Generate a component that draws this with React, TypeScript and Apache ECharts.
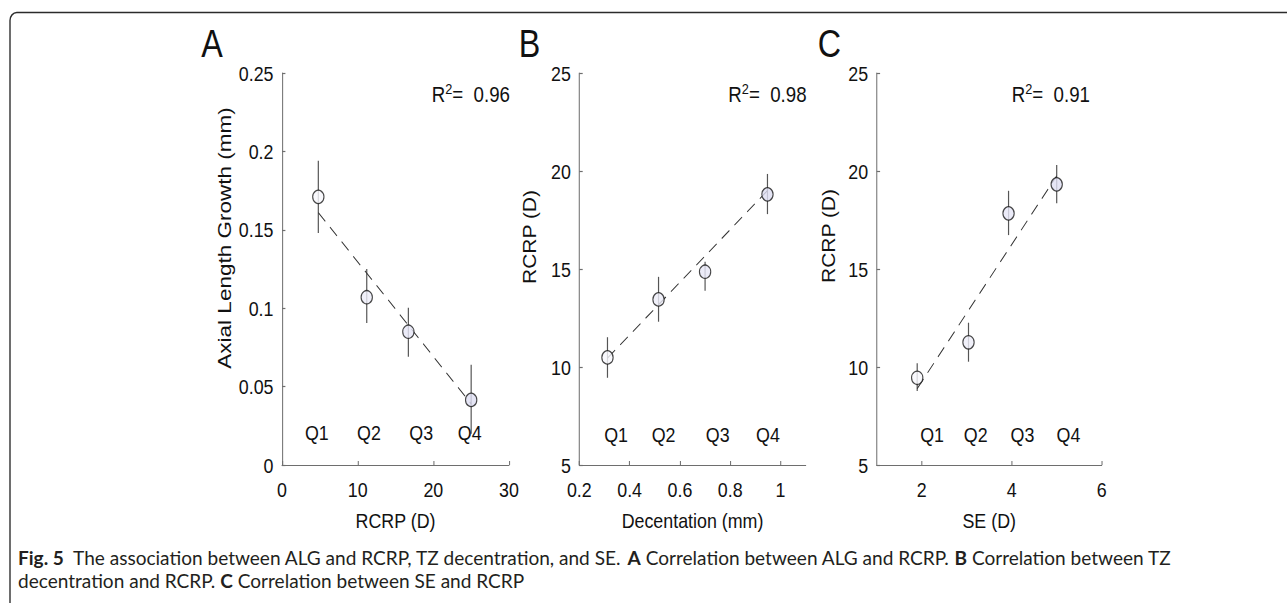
import React, { useEffect, useRef } from 'react';
import * as echarts from 'echarts';

// The reference figure is horizontally compressed; we draw in an unscaled space and squeeze it.
const K = 0.85;
const W = Math.round(1287 / K);
const H = 603;
const sx = (x: number) => x / K;

const quartiles = ['Q1', 'Q2', 'Q3', 'Q4'];

// ---- Panel A: ALG vs RCRP ----
const rcrpA = [4.8, 11.2, 16.7, 25.0];
const algA = [0.171, 0.107, 0.085, 0.0415];
const algLowA = [0.148, 0.0905, 0.069, 0.02];
const algHighA = [0.194, 0.125, 0.1003, 0.064];
const fitXA = [4.8, 25.0];
const fitYA = [0.161, 0.039];
const qLabelXA = [4.6, 11.5, 18.4, 24.8];
const qLabelYA = 0.0205;
const r2A = '0.96';

// ---- Panel B: RCRP vs decentration ----
const decentB = [0.312, 0.515, 0.7, 0.948];
const rcrpB = [10.49, 13.45, 14.86, 18.81];
const rcrpLowB = [9.45, 12.31, 13.89, 17.8];
const rcrpHighB = [11.52, 14.6, 15.37, 19.85];
const fitXB = [0.312, 0.948];
const fitYB = [10.45, 19.0];
const qLabelXB = [0.346, 0.535, 0.75, 0.95];
const qLabelYB = 6.58;
const r2B = '0.98';
const xTicksB = [0.2, 0.4, 0.6, 0.8, 1];

// ---- Panel C: RCRP vs SE ----
const seC = [1.9, 3.04, 3.93, 5.0];
const rcrpC = [9.45, 11.26, 17.84, 19.32];
const rcrpLowC = [8.78, 10.27, 16.73, 18.35];
const rcrpHighC = [10.19, 12.26, 18.99, 20.31];
const fitXC = [1.9, 5.0];
const fitYC = [8.9, 19.75];
const qLabelXC = [2.23, 3.2, 4.24, 5.26];
const qLabelYC = 6.58;
const r2C = '0.91';
const xTicksC = [2, 4, 6];

const panelLetters = ['A', 'B', 'C'];
const xNames = ['RCRP (D)', 'Decentation (mm)', 'SE (D)'];
const yNames = ['Axial Length Growth (mm)', 'RCRP (D)', 'RCRP (D)'];
const r2Values = [r2A, r2B, r2C];
const captionLine1 = [
  ['b', 'Fig. 5'],
  ['n', '  The association between ALG and RCRP, TZ decentration, and SE. '],
  ['b', 'A'],
  ['n', ' Correlation between ALG and RCRP. '],
  ['b', 'B'],
  ['n', ' Correlation between TZ'],
];
const captionLine2 = [
  ['n', 'decentration and RCRP. '],
  ['b', 'C'],
  ['n', ' Correlation between SE and RCRP'],
];

const FONT = "'Liberation Sans', Arial, Helvetica, sans-serif";
const CAP_FONT = "Lato, 'Open Sans', sans-serif";
const TEXT = '#111111';
const AXIS = '#6e6e6e';
const FILLS = ['#f7f7fc', '#ececf8', '#e6e6f6', '#dfdff3'];

const layout = [
  { left: 282, width: 227, letterX: 212, nameX: 224, nameY: 238, nameSize: 22.5, r2X: 431.7 },
  { left: 579.3, width: 226.4, letterX: 529.5, nameX: 530, nameY: 237, nameSize: 21, r2X: 728.3 },
  { left: 876.7, width: 225, letterX: 829.5, nameX: 829, nameY: 236, nameSize: 21, r2X: 1011.7 },
];
const TOP = 73;
const PH = 392;

export default function App() {
  const ref = useRef<HTMLDivElement>(null);
  useEffect(() => {
    if (!ref.current) return;
    const chart = echarts.init(ref.current, null, { renderer: 'svg', width: W, height: H });

    const panels = [
      { x: rcrpA, y: algA, lo: algLowA, hi: algHighA, fx: fitXA, fy: fitYA, qx: qLabelXA, qy: qLabelYA },
      { x: decentB, y: rcrpB, lo: rcrpLowB, hi: rcrpHighB, fx: fitXB, fy: fitYB, qx: qLabelXB, qy: qLabelYB },
      { x: seC, y: rcrpC, lo: rcrpLowC, hi: rcrpHighC, fx: fitXC, fy: fitYC, qx: qLabelXC, qy: qLabelYC },
    ];

    const axisCommon = {
      axisLine: { show: true, lineStyle: { color: AXIS, width: 1.2 } },
      axisTick: { show: true, inside: true, length: 4, lineStyle: { color: AXIS, width: 1.2 } },
      splitLine: { show: false },
    };
    const labelCommon = { color: TEXT, fontSize: 21, fontFamily: FONT };

    const xAxes = [
      { min: 0, max: 30, interval: 10 },
      { min: 0.2, max: 1.1, axisLabel: { customValues: xTicksB }, axisTick: { customValues: xTicksB } },
      { min: 1, max: 6, axisLabel: { customValues: xTicksC }, axisTick: { customValues: xTicksC } },
    ].map((a: any, i) => ({
      type: 'value',
      gridIndex: i,
      min: a.min,
      max: a.max,
      interval: a.interval,
      ...axisCommon,
      axisTick: { ...axisCommon.axisTick, ...(a.axisTick || {}) },
      axisLabel: { ...labelCommon, margin: 14, ...(a.axisLabel || {}) },
      name: xNames[i],
      nameLocation: 'middle',
      nameGap: 45,
      nameTextStyle: { color: TEXT, fontSize: 21, fontFamily: FONT },
    }));

    const yAxes = [
      { min: 0, max: 0.25, interval: 0.05 },
      { min: 5, max: 25, interval: 5 },
      { min: 5, max: 25, interval: 5 },
    ].map((a, i) => ({
      type: 'value',
      gridIndex: i,
      ...a,
      ...axisCommon,
      axisLabel: { ...labelCommon, margin: 10 },
    }));

    const series: any[] = [];
    panels.forEach((p, i) => {
      series.push({
        type: 'custom',
        xAxisIndex: i,
        yAxisIndex: i,
        z: 2,
        silent: true,
        data: p.x.map((v, j) => [v, p.lo[j], p.hi[j]]),
        renderItem: (_params: any, api: any) => {
          const a = api.coord([api.value(0), api.value(2)]);
          const b = api.coord([api.value(0), api.value(1)]);
          return {
            type: 'line',
            shape: { x1: a[0], y1: a[1], x2: b[0], y2: b[1] },
            style: { stroke: '#555555', lineWidth: 1.4 },
          };
        },
      });
      series.push({
        type: 'line',
        xAxisIndex: i,
        yAxisIndex: i,
        z: 3,
        silent: true,
        symbol: 'none',
        data: p.fx.map((v, j) => [v, p.fy[j]]),
        lineStyle: { color: '#333333', width: 1.1, type: [12, 8] },
      });
      series.push({
        type: 'scatter',
        xAxisIndex: i,
        yAxisIndex: i,
        z: 4,
        silent: true,
        symbol: 'circle',
        symbolSize: 13.3,
        data: p.x.map((v, j) => ({ value: [v, p.y[j]], itemStyle: { color: FILLS[j] } })),
        itemStyle: { borderColor: '#1a1a1a', borderWidth: 1.3 },
      });
      series.push({
        type: 'custom',
        xAxisIndex: i,
        yAxisIndex: i,
        z: 5,
        silent: true,
        data: p.qx.map((v, j) => [v, p.qy, j]),
        renderItem: (_params: any, api: any) => {
          const c = api.coord([api.value(0), api.value(1)]);
          return {
            type: 'text',
            x: c[0],
            y: c[1],
            style: {
              text: quartiles[api.value(2)],
              fill: TEXT,
              fontSize: 21,
              fontFamily: FONT,
              align: 'center',
              verticalAlign: 'middle',
            },
          };
        },
      });
    });

    const graphic: any[] = [
      {
        type: 'rect',
        silent: true,
        shape: { x: sx(10), y: 12.5, width: 3000, height: 1000, r: 8 },
        style: { fill: 'none', stroke: '#2b2b2b', lineWidth: 1.6 },
      },
    ];
    layout.forEach((l, i) => {
      graphic.push({
        type: 'text',
        silent: true,
        x: sx(l.letterX),
        y: 43.5,
        style: { text: panelLetters[i], fontSize: 38, fontFamily: FONT, fill: TEXT, align: 'center', verticalAlign: 'middle' },
      });
      graphic.push({
        type: 'text',
        silent: true,
        x: sx(l.nameX),
        y: l.nameY,
        rotation: Math.PI / 2,
        style: { text: yNames[i], fontSize: l.nameSize, fontFamily: FONT, fill: TEXT, align: 'center', verticalAlign: 'middle' },
      });
      graphic.push({
        type: 'text',
        silent: true,
        x: sx(l.r2X),
        y: 94,
        style: {
          text: `{r|R}{s|2}{r|=  ${r2Values[i]}}`,
          align: 'left',
          verticalAlign: 'middle',
          rich: {
            r: { fontSize: 22, fontFamily: FONT, fill: TEXT, lineHeight: 26 },
            s: { fontSize: 15, fontFamily: FONT, fill: TEXT, verticalAlign: 'top' },
          },
        },
      });
    });
    const capRich = {
      b: { fontSize: 19.5, fontFamily: CAP_FONT, fontWeight: 'bold', fill: '#231f20', lineHeight: 20 },
      n: { fontSize: 19.5, fontFamily: CAP_FONT, fill: '#231f20', lineHeight: 20 },
    };
    [captionLine1, captionLine2].forEach((line, k) => {
      graphic.push({
        type: 'text',
        silent: true,
        x: sx(18),
        y: 557 + k * 23.5,
        scaleX: 1.15,
        style: {
          text: line.map(([s, t]) => `{${s}|${t}}`).join(''),
          align: 'left',
          verticalAlign: 'middle',
          rich: capRich,
        },
      });
    });

    chart.setOption({
      animation: false,
      backgroundColor: '#ffffff',
      grid: layout.map((l) => ({ left: sx(l.left), width: sx(l.width), top: TOP, height: PH, containLabel: false })),
      xAxis: xAxes,
      yAxis: yAxes,
      series,
      graphic,
    });
    return () => chart.dispose();
  }, []);

  return (
    <div
      ref={ref}
      style={{
        position: 'fixed',
        left: 0,
        top: 0,
        width: W,
        height: H,
        transform: `scaleX(${K})`,
        transformOrigin: '0 0',
        background: '#ffffff',
      }}
    />
  );
}
